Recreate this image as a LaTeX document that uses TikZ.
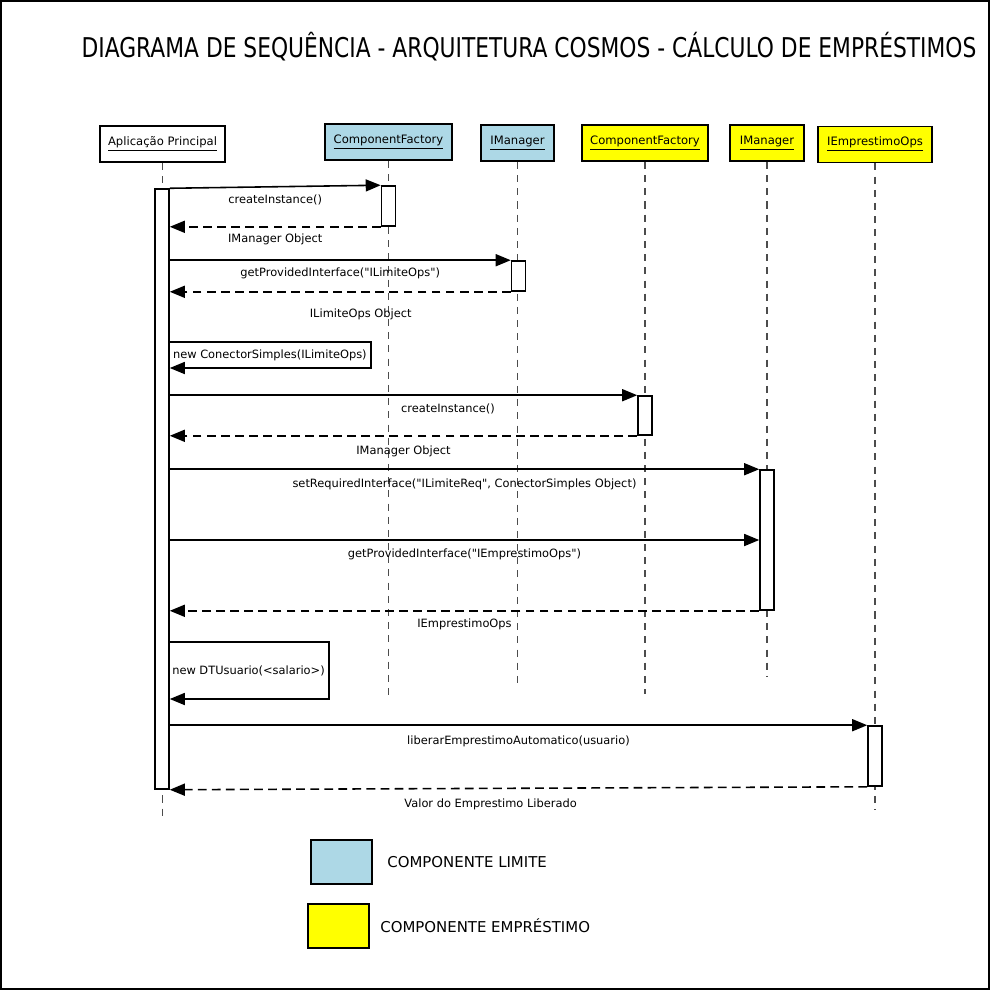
\documentclass[tikz,border=0pt]{standalone}
\usepackage{fontspec}
\setmainfont{DejaVu Sans}[Ligatures=TeXOff]
\newfontfamily\titlefont[FakeStretch=0.8]{DejaVu Sans}
\usetikzlibrary{arrows.meta,positioning}
\definecolor{limblue}{RGB}{173,216,230}
\definecolor{empyellow}{RGB}{255,255,0}
\tikzset{
  head/.style={draw,line width=1.1pt,minimum height=0.72cm,inner sep=1pt,font=\fontsize{6.6}{8}\selectfont},
  actbar/.style={draw,fill=white,line width=0.9pt,minimum width=0.28cm,inner sep=0pt},
  life/.style={gray!60!black,line width=0.7pt,dash pattern=on 4pt off 3.5pt},
  msg/.style={line width=0.9pt,-{Triangle[length=0.3cm,width=0.24cm]}},
  ret/.style={msg,dash pattern=on 5pt off 3pt},
  lbl/.style={inner sep=1pt,font=\fontsize{6.5}{8}\selectfont},
  legbox/.style={draw,line width=1.1pt,minimum width=1.22cm,minimum height=0.88cm},
  legtxt/.style={inner sep=1pt,font=\fontsize{8.5}{10}\selectfont}
}
\begin{document}
\begin{tikzpicture}[x=0.02cm,y=-0.02cm]
        \useasboundingbox (0,0) rectangle (991,991);
        \draw[line width=1.1pt] (1,1) rectangle (989,989); % frame
        \node[font=\titlefont\fontsize{15.5}{18}\selectfont] (title) at (529,47) {DIAGRAMA DE SEQUÊNCIA - ARQUITETURA COSMOS - CÁLCULO DE EMPRÉSTIMOS};
        % lifeline heads
        \node[head,fill=white,minimum width=2.5cm] (hApp) at (162.5,144) {\underline{Aplicação Principal}};
        \node[head,fill=limblue,minimum width=2.54cm] (hCFlim) at (388.5,142) {\underline{ComponentFactory}};
        \node[head,fill=limblue,minimum width=1.46cm] (hIMlim) at (517.5,143) {\underline{IManager}};
        \node[head,fill=empyellow,minimum width=2.52cm] (hCFemp) at (645,143) {\underline{ComponentFactory}};
        \node[head,fill=empyellow,minimum width=1.48cm] (hIMemp) at (767,143) {\underline{IManager}};
        \node[head,fill=empyellow,minimum width=2.28cm] (hOps) at (875,144.5) {\underline{IEmprestimoOps}};
        \foreach \h/\len in {hApp/653,hCFlim/535,hIMlim/524,hCFemp/532,hIMemp/514,hOps/647}
            \draw[life] (\h.south) -- ++(0,\len);
        % activation bars
        \node[actbar,minimum height=12cm] (aApp) at (162,489) {};
        \node[actbar,minimum height=0.8cm] (aCFlim) at (388.5,206) {};
        \node[actbar,minimum height=0.6cm] (aIMlim) at (518.5,276) {};
        \node[actbar,minimum height=0.78cm] (aCFemp) at (645,415.5) {};
        \node[actbar,minimum height=2.8cm] (aIMemp) at (767,540) {};
        \node[actbar,minimum height=1.2cm] (aOps) at (875,756) {};
        % messages
        \draw[msg] (aApp.north east) -- node[lbl,below=3pt] {createInstance()} (aCFlim.north west);
        \draw[ret] (aCFlim.south west) -- node[lbl,below=2.3pt] {IManager Object} (aApp.east |- aCFlim.south west);
        \draw[msg] (aApp.east |- aIMlim.north west) -- node[lbl,below=3pt] {getProvidedInterface("ILimiteOps")} (aIMlim.north west);
        \draw[ret] (aIMlim.south west) -- node[lbl,pos=0.44,below=8pt] {ILimiteOps Object} (aApp.east |- aIMlim.south west);
        \coordinate (ncTop) at (371,342);
        \coordinate (ncBot) at (371,368);
        \draw[msg] (aApp.east |- ncTop) -- (ncTop) -- node[lbl,left=1pt] {new ConectorSimples(ILimiteOps)} (ncBot) -- (aApp.east |- ncBot);
        \draw[msg] (aApp.east |- aCFemp.north west) -- node[lbl,pos=0.595,below=3.4pt] {createInstance()} (aCFemp.north west);
        \draw[ret] (aCFemp.south west) -- node[lbl,below=4.5pt] {IManager Object} (aApp.east |- aCFemp.south west);
        \draw[msg] (aApp.east |- aIMemp.north west) -- node[lbl,below=4pt] {setRequiredInterface("ILimiteReq", ConectorSimples Object)} (aIMemp.north west);
        \draw[msg] (aApp.east |- aIMemp.west) -- node[lbl,below=3.4pt] {getProvidedInterface("IEmprestimoOps")} (aIMemp.west);
        \draw[ret] (aIMemp.south west) -- node[lbl,below=3.4pt] {IEmprestimoOps} (aApp.east |- aIMemp.south west);
        \coordinate (dtTop) at (329,642);
        \coordinate (dtBot) at (329,699);
        \draw[msg] (aApp.east |- dtTop) -- (dtTop) -- node[lbl,left=1pt] {new DTUsuario(<salario>)} (dtBot) -- (aApp.east |- dtBot);
        \draw[msg] (aApp.east |- aOps.north west) -- node[lbl,below=4.5pt] {liberarEmprestimoAutomatico(usuario)} (aOps.north west);
        \draw[ret] (aOps.south west) -- node[lbl,pos=0.54,below=4.5pt] {Valor do Emprestimo Liberado} (aApp.south east);
        % legend
        \node[legbox,fill=limblue] (legLim) at (341.5,862) {};
        \node[legtxt,right=7pt of legLim] (legLimTxt) {COMPONENTE LIMITE};
        \node[legbox,fill=empyellow] (legEmp) at (338.5,926) {};
        \node[legtxt,right=4.7pt of legEmp] (legEmpTxt) {COMPONENTE EMPRÉSTIMO};
    \end{tikzpicture}
\end{document}
